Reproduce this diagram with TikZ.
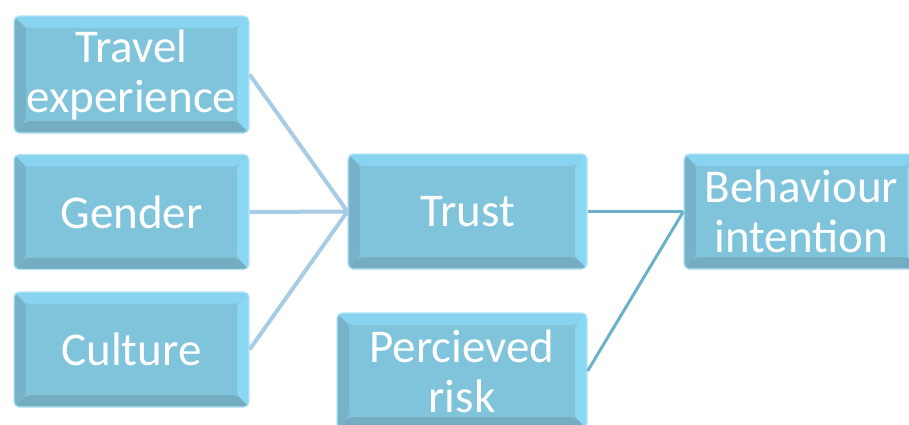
\documentclass[tikz,border=0pt]{standalone}
\usepackage{fontspec}
\setmainfont{Carlito}
\definecolor{boxc}{HTML}{80C4DC}
\definecolor{topc}{HTML}{88D4F0}
\definecolor{rightc}{HTML}{8AD8F4}
\definecolor{leftc}{HTML}{76B2C8}
\definecolor{botc}{HTML}{74ACC2}
\definecolor{edgec}{HTML}{B4E6F6}
\definecolor{lineA}{HTML}{A8CCE6}
\definecolor{lineB}{HTML}{6AB2C8}
\tikzset{
  bev/.style={rounded corners=5pt, fill=boxc, draw=edgec, line width=1.2pt,
    text=white, font=\fontsize{47}{50}\selectfont, align=center, inner sep=0pt,
    path picture={
      \def\pb{path picture bounding box}
      \fill[topc] (\pb.north west) -- (\pb.north east) -- ([xshift=-12pt,yshift=-12pt]\pb.north east) -- ([xshift=12pt,yshift=-12pt]\pb.north west) -- cycle;
      \fill[rightc] (\pb.north east) -- (\pb.south east) -- ([xshift=-12pt,yshift=12pt]\pb.south east) -- ([xshift=-12pt,yshift=-12pt]\pb.north east) -- cycle;
      \fill[botc] (\pb.south east) -- (\pb.south west) -- ([xshift=12pt,yshift=12pt]\pb.south west) -- ([xshift=-12pt,yshift=12pt]\pb.south east) -- cycle;
      \fill[leftc] (\pb.south west) -- (\pb.north west) -- ([xshift=12pt,yshift=-12pt]\pb.north west) -- ([xshift=12pt,yshift=12pt]\pb.south west) -- cycle;
      \fill[boxc] ([xshift=12pt,yshift=-12pt]\pb.north west) rectangle ([xshift=-12pt,yshift=12pt]\pb.south east);
    }},
  linka/.style={draw=lineA, line width=4pt},
  linkb/.style={draw=lineB, line width=3pt}
}
\begin{document}
\begin{tikzpicture}[x=1pt,y=-1pt]
\useasboundingbox (0,0) rectangle (909,424);
\node[bev, minimum width=235pt, minimum height=117pt] (travel) at (131.5,74.5) {Travel\\experience};
\node[bev, minimum width=235pt, minimum height=115pt] (gender) at (131.5,212) {Gender};
\node[bev, minimum width=235pt, minimum height=115pt] (culture) at (131.5,349.5) {Culture};
\node[bev, minimum width=239pt, minimum height=115pt] (trust) at (467.5,211.5) {Trust};
\node[bev, minimum width=250pt, minimum height=116pt] (risk) at (462,371) {Percieved\\risk};
\node[bev, minimum width=235pt, minimum height=115pt] (beh) at (801.5,211.5) {Behaviour\\intention};
\draw[linka] (travel.east) -- (trust.west);
\draw[linka] (gender.east) -- (trust.west);
\draw[linka] (culture.east) -- (trust.west);
\draw[linkb] (trust.east) -- (beh.west);
\draw[linkb] (risk.east) -- (beh.west);
\end{tikzpicture}
\end{document}
